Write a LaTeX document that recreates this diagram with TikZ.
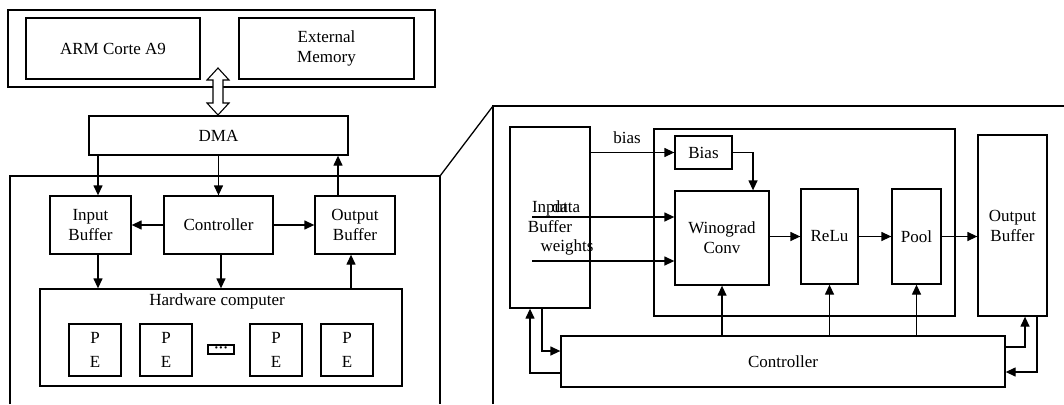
\documentclass[tikz,border=0pt]{standalone}
\usepackage{fontspec}
\setmainfont{Liberation Serif}
\usetikzlibrary{arrows.meta,calc}
\begin{document}
\begin{tikzpicture}[x=1pt,y=-1pt, line width=1.3pt,
  font=\fontsize{17}{20}\selectfont,
  box/.style={draw, inner sep=0pt, align=center},
  arr/.style={-{Triangle[length=10pt,width=9pt]}},
  lbl/.style={inner sep=0pt}]
\useasboundingbox (0,0) rectangle (1064,404);

% ---------------- system overview ----------------
\node[box, minimum width=427, minimum height=77] (soc) at (221.5,48.5) {};
\node[box, minimum width=174, minimum height=61] (arm) at (113,48.5) {ARM Corte A9};
\node[box, minimum width=175, minimum height=61] (mem) at (326.5,48.5) {External\\Memory};
\node[box, minimum width=259, minimum height=39] (dma) at (218.5,135.5) {DMA};

% bus between processing system and DMA
\coordinate (dc) at (218,91.5);
\draw[fill=white, line width=1.1pt] ($(dc)+(0,-23.5)$) -- ++(11,12) -- ++(-6,0) -- ++(0,23)
  -- ++(6,0) -- ++(-11,12) -- ++(-11,-12) -- ++(6,0) -- ++(0,-23) -- ++(-6,0) -- cycle;

% accelerator frame (open at the bottom)
\draw (10,404) -- (10,176) -- (440,176) coordinate (lfr) -- (440,404);
\draw (493,404) -- (493,106) coordinate (rfl) -- (1064,106);
\draw (lfr) -- (rfl);

\node[box, minimum width=81, minimum height=58] (inbuf) at (90.5,225) {Input\\Buffer};
\node[box, minimum width=109, minimum height=58] (ctrl) at (218.5,225) {Controller};
\node[box, minimum width=80, minimum height=58] (outbuf) at (355,225) {Output\\Buffer};
\node[box, minimum width=362, minimum height=97] (hw) at (221,337.5) {};
\node[lbl] (hwlabel) at (217,301) {Hardware computer};
\node[box, minimum width=52, minimum height=52] (pe1) at (95,350) {P\\[4pt]E};
\node[box, minimum width=52, minimum height=52] (pe2) at (166,350) {P\\[4pt]E};
\node[box, minimum width=52, minimum height=52] (pe3) at (276,350) {P\\[4pt]E};
\node[box, minimum width=52, minimum height=52] (pe4) at (347,350) {P\\[4pt]E};
\node[box, minimum width=26, minimum height=9, font=\fontsize{14}{14}\selectfont\bfseries] (dots) at (221,349.5) {\raisebox{-1.5pt}{···}};

\coordinate (a1) at ([xshift=7.5pt]inbuf.north);
\draw[arr] (a1 |- dma.south) -- (a1);
\draw[arr] (dma.south) -- (ctrl.north);
\coordinate (a2) at ([xshift=-17pt]outbuf.north);
\draw[arr] (a2) -- (a2 |- dma.south);
\draw[arr] (ctrl.west) -- (inbuf.east);
\draw[arr] (ctrl.east) -- (outbuf.west);
\coordinate (a3) at ([xshift=7.5pt]inbuf.south);
\draw[arr] (a3) -- (a3 |- hw.north);
\coordinate (a4) at ([xshift=2.5pt]ctrl.south);
\draw[arr] (a4) -- (a4 |- hw.north);
\coordinate (a5) at ([xshift=-4pt]outbuf.south);
\draw[arr] (a5 |- hw.north) -- (a5);

% ---------------- accelerator detail ----------------
\node[box, minimum width=80, minimum height=181] (rin) at (550,217.5) {Input\\Buffer};
\node[box, minimum width=301, minimum height=187] (grp) at (804.5,222.5) {};
\node[box, minimum width=57, minimum height=33] (bias) at (703.5,152.5) {Bias};
\node[box, minimum width=94, minimum height=94] (wino) at (722,238) {Winograd\\Conv};
\node[box, minimum width=57, minimum height=95] (relu) at (829.5,236.5) {ReLu};
\node[box, minimum width=49, minimum height=95] (pool) at (916.5,236.5) {Pool};
\node[box, minimum width=69, minimum height=181] (rout) at (1012.5,225.5) {Output\\Buffer};
\node[box, minimum width=444, minimum height=51] (rctrl) at (783,361.5) {Controller};

\node[lbl] (biaslbl) at (627,138) {bias};
\node[lbl] (datalbl) at (566,206.5) {data};
\node[lbl] (wlbl) at (567,247.5) {weights};

\draw[arr] (bias.west -| rin.east) -- (bias.west);
\coordinate (b1) at ([xshift=31pt]wino.north);
\draw[arr] (bias.east) -| (b1);
\coordinate (dstart) at (532,217);
\draw[arr] (dstart) -- (dstart -| wino.west);
\coordinate (wstart) at (532,261);
\draw[arr] (wstart) -- (wstart -| wino.west);
\draw[arr] (relu.west -| wino.east) -- (relu.west);
\draw[arr] (relu.east) -- (pool.west);
\draw[arr] (pool.east) -- (pool.east -| rout.west);
\draw[arr] (rctrl.north -| wino.south) -- (wino.south);
\draw[arr] (rctrl.north -| relu.south) -- (relu.south);
\draw[arr] (rctrl.north -| pool.south) -- (pool.south);

\coordinate (c1) at ([xshift=12.5pt]rout.south);
\coordinate (c1s) at ([yshift=14.5pt]rctrl.east);
\draw[arr] (c1s) -| (c1);
\coordinate (c2) at ([xshift=24.5pt]rout.south);
\coordinate (c2e) at ([yshift=-10.5pt]rctrl.east);
\draw[arr] (c2) |- (c2e);
\coordinate (c3) at ([xshift=-8pt]rin.south);
\coordinate (c3e) at ([yshift=10.5pt]rctrl.west);
\draw[arr] (c3) |- (c3e);
\coordinate (c4) at ([xshift=-20pt]rin.south);
\coordinate (c4s) at ([yshift=-11.5pt]rctrl.west);
\draw[arr] (c4s) -| (c4);
\end{tikzpicture}
\end{document}
